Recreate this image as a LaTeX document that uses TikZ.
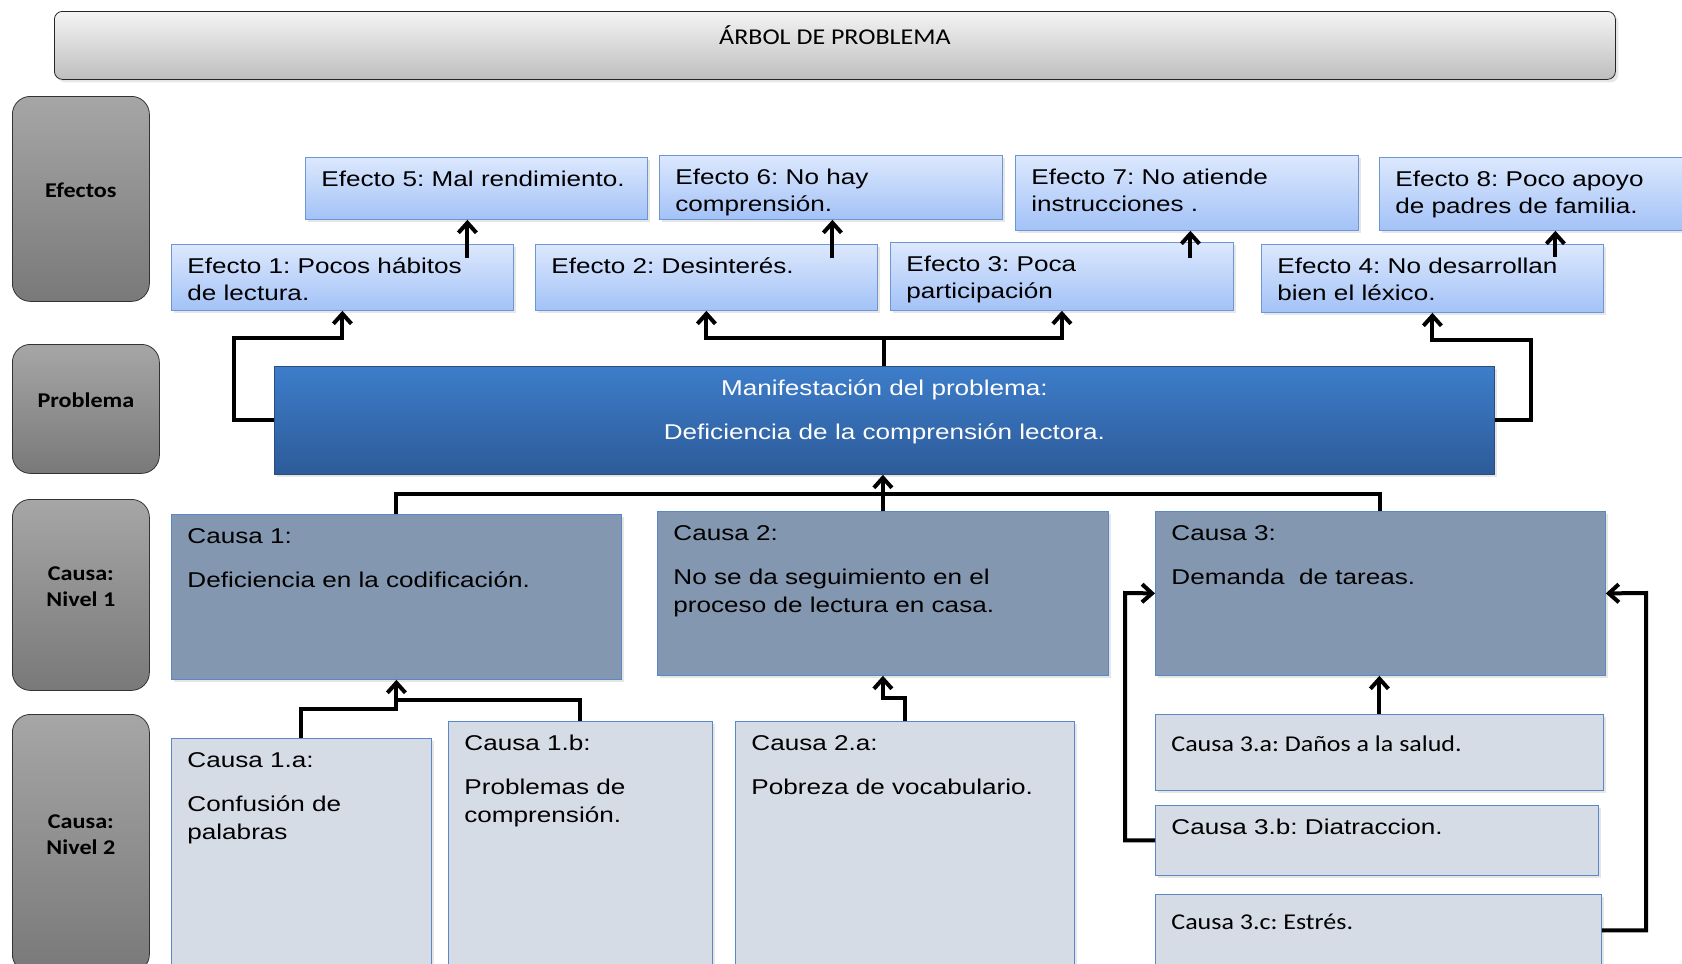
\documentclass[tikz,border=0pt]{standalone}
\usepackage{fontspec}
\setmainfont{Liberation Sans}[FakeStretch=1.22]
\newfontfamily\calibri{Carlito}[FakeStretch=1.15]
\usetikzlibrary{positioning, arrows.meta, shadows}
\frenchspacing

\definecolor{efectoA}{HTML}{DCE8FD}
\definecolor{efectoB}{HTML}{A3C2F7}
\definecolor{efectoBorde}{HTML}{6E95D4}
\definecolor{problemaA}{HTML}{3D7DCA}
\definecolor{problemaB}{HTML}{2D5B99}
\definecolor{problemaBorde}{HTML}{2B4C7E}
\definecolor{causaA}{HTML}{8497B0}
\definecolor{causaB}{HTML}{D6DCE5}
\definecolor{causaBorde}{HTML}{5A87C6}
\definecolor{filaA}{HTML}{A6A6A6}
\definecolor{filaB}{HTML}{797979}
\definecolor{tituloA}{HTML}{F4F4F4}
\definecolor{tituloB}{HTML}{BEBEBE}

\newcommand{\caja}[3]{\parbox[t][#2][t]{#1}{\raggedright\strut #3}}
\newcommand{\etiq}[3]{\parbox[c][#2][c]{#1}{\centering #3\par\vspace{8.5pt}}}

\begin{document}
\begin{tikzpicture}[x=0.5pt, y=-0.5pt,
    every node/.style={font=\fontsize{10.7}{13.7}\selectfont\frenchspacing, inner xsep=8pt, inner ysep=5pt, anchor=north west},
    sombra/.style={drop shadow={opacity=.2, shadow xshift=1.5pt, shadow yshift=-1.5pt}},
    titulo/.style={draw=black!85, rounded corners=4pt, top color=tituloA, bottom color=tituloB, sombra,
        minimum width=780.5pt, inner ysep=0pt, text height=16.5pt, text depth=17.5pt,
        font=\calibri\fontsize{11.3}{13.7}\selectfont},
    fila/.style={draw=black!80, rounded corners=9pt, top color=filaA, bottom color=filaB, inner sep=0pt,
        font=\calibri\bfseries\fontsize{10.5}{13}\selectfont},
    efecto/.style={draw=efectoBorde, top color=efectoA, bottom color=efectoB, sombra},
    problema/.style={draw=problemaBorde, top color=problemaA, bottom color=problemaB, text=white, sombra},
    causa/.style={draw=causaBorde, fill=causaA, sombra},
    subcausa/.style={draw=causaBorde, fill=causaB, sombra},
    flecha/.style={line width=2pt, -{Straight Barb[length=5pt,width=9pt]}},
    linea/.style={line width=2pt}
    ]
    \useasboundingbox (0,0) rectangle (1682,964);

    % titulo
    \node[titulo] (titulo) at (54,11) {ÁRBOL DE PROBLEMA};

    % filas
    \node[fila] (fEfectos) at (12,96) {\etiq{68.5pt}{102.5pt}{Efectos}};
    \node[fila] (fProblema) at (12,344) {\etiq{73.5pt}{64.5pt}{Problema}};
    \node[fila] (fNivel1) at (12,499) {\etiq{68.5pt}{95.5pt}{Causa:\\Nivel 1}};
    \node[fila] (fNivel2) at (12,714) {\etiq{68.5pt}{129pt}{Causa:\\Nivel 2}};

    % efectos
    \node[efecto] (e5) at (305,157) {\caja{155pt}{21pt}{Efecto 5: Mal rendimiento.}};
    \node[efecto] (e6) at (659,155) {\caja{155.5pt}{22pt}{Efecto 6: No hay\\comprensión.}};
    \node[efecto] (e7) at (1015,155) {\caja{155.5pt}{27.5pt}{Efecto 7: No atiende\\instrucciones .}};
    \node[efecto] (e8) at (1379,157) {\caja{155pt}{26.5pt}{Efecto 8: Poco apoyo\\de padres de familia.}};
    \node[efecto] (e1) at (171,244) {\caja{155pt}{23pt}{Efecto 1: Pocos hábitos\\de lectura.}};
    \node[efecto] (e2) at (535,244) {\caja{155pt}{23pt}{Efecto 2: Desinterés.}};
    \node[efecto] (e3) at (890,242) {\caja{155.5pt}{24pt}{Efecto 3: Poca\\participación}};
    \node[efecto] (e4) at (1261,244) {\caja{155pt}{24pt}{Efecto 4: No desarrollan\\bien el léxico.}};

    % problema
    \node[problema] (prob) at (274,366) {\caja{594pt}{44pt}{\centering Manifestación del problema:\\[8.5pt]Deficiencia de la comprensión lectora.}};

    % causas
    \node[causa] (c1) at (171,514) {\caja{209pt}{72.5pt}{Causa 1:\\[8.5pt]Deficiencia en la codificación.}};
    \node[causa] (c2) at (657,511) {\caja{209.5pt}{72pt}{Causa 2:\\[8.5pt]No se da seguimiento en el\\proceso de lectura en casa.}};
    \node[causa] (c3) at (1155,511) {\caja{209pt}{72pt}{Causa 3:\\[8.5pt]Demanda\ \ de tareas.}};

    \node[subcausa] (c1a) at (171,738) {\caja{114pt}{116pt}{Causa 1.a:\\[8.5pt]Confusión de\\palabras}};
    \node[subcausa] (c1b) at (448,721) {\caja{116pt}{124.5pt}{Causa 1.b:\\[8.5pt]Problemas de\\comprensión.}};
    \node[subcausa] (c2a) at (735,721) {\caja{153.5pt}{124.5pt}{Causa 2.a:\\[8.5pt]Pobreza de vocabulario.}};
    \node[subcausa, inner ysep=9pt, font=\calibri\fontsize{11.3}{13.7}\selectfont] (c3a) at (1155,714) {\caja{208pt}{20pt}{Causa 3.a: Daños a la salud.}};
    \node[subcausa] (c3b) at (1155,805) {\caja{205.5pt}{25pt}{Causa 3.b: Diatraccion.}};
    \node[subcausa, inner ysep=8pt, font=\calibri\fontsize{11.3}{13.7}\selectfont] (c3c) at (1155,894) {\caja{207pt}{20pt}{Causa 3.c: Estrés.}};

    % flechas entre efectos
    \coordinate (a5) at ([xshift=62.5pt, yshift=-7pt]e1.north);
    \coordinate (a6) at ([xshift=63pt, yshift=-7pt]e2.north);
    \coordinate (a7) at ([xshift=64.25pt, yshift=-8pt]e3.north);
    \coordinate (a8) at ([xshift=61.5pt, yshift=-6.5pt]e4.north);
    \draw[flecha] (a5) -- (a5 |- e5.south);
    \draw[flecha] (a6) -- (a6 |- e6.south);
    \draw[flecha] (a7) -- (a7 |- e7.south);
    \draw[flecha] (a8) -- (a8 |- e8.south);

    % problema -> efectos
    \draw[flecha] (prob.west) -| (234,338) -| (e1.south);
    \draw[flecha] (prob.north) -- ++(0,-28) -| (e2.south);
    \draw[flecha] (prob.north) -- ++(0,-28) -| (e3.south);
    \draw[flecha] (prob.east) -| (1531,340) -| (e4.south);

    % causas -> problema
    \draw[linea] (c1.north) |- (c2.north |- 0,494) -| (c3.north);
    \draw[flecha] (c2.north) -- (c2.north |- prob.south);

    % subcausas -> causas
    \draw[linea] (c1b.north) |- (c1.south |- 0,700);
    \draw[flecha] (c1a.north) |- (c1.south |- 0,709) -- (c1.south);
    \draw[flecha] (c2a.north) |- (c2.south |- 0,698) -- (c2.south);
    \draw[flecha] (c3a.north) -- (c3a.north |- c3.south);
    \draw[flecha] (c3b.west) -| (1125,593) -- (c3.west);
    \draw[flecha] (c3c.east) -| (1646,593) -- (c3.east);
\end{tikzpicture}
\end{document}
